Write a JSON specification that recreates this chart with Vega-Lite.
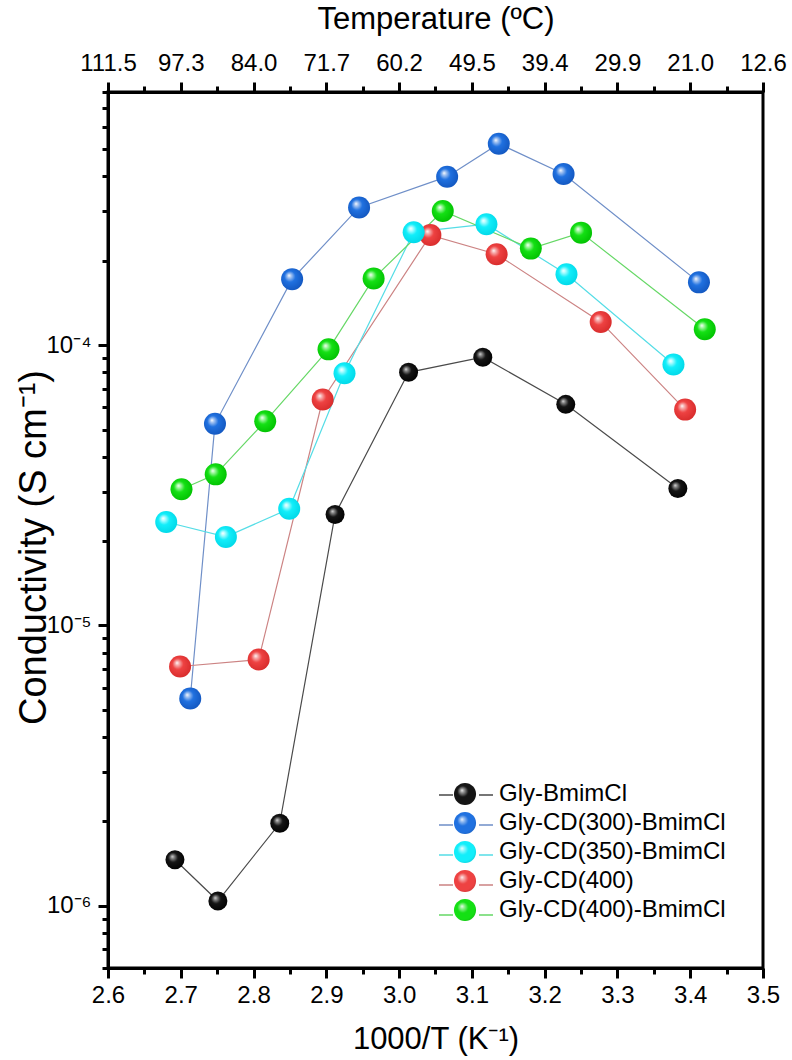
{
  "$schema": "https://vega.github.io/schema/vega-lite/v6.json",
  "width": 655,
  "height": 876,
  "autosize": {"type": "none"},
  "padding": {"left": 108, "top": 92, "right": 29, "bottom": 92},
  "background": "white",
  "config": {
    "view": {"stroke": "black", "strokeWidth": 3},
    "axis": {
      "grid": false,
      "ticks": true,
      "domainColor": "black",
      "domainWidth": 3,
      "tickColor": "black",
      "tickOpacity": 1,
      "tickWidth": 3,
      "labelColor": "black",
      "titleColor": "black",
      "labelFont": "Liberation Sans, Arial, sans-serif",
      "titleFont": "Liberation Sans, Arial, sans-serif",
      "labelFontSize": 24,
      "titleFontSize": 31,
      "titleFontWeight": "normal",
      "labelFlush": false,
      "labelOverlap": false
    },
    "legend": {
      "labelFont": "Liberation Sans, Arial, sans-serif",
      "labelFontSize": 24,
      "labelColor": "black",
      "labelLimit": 0
    }
  },
  "data": {
    "values": [
      {"s": "Gly-BmimCl", "x": 2.692, "y": 1.46e-6},
      {"s": "Gly-BmimCl", "x": 2.751, "y": 1.04e-6},
      {"s": "Gly-BmimCl", "x": 2.836, "y": 1.97e-6},
      {"s": "Gly-BmimCl", "x": 2.912, "y": 2.49e-5},
      {"s": "Gly-BmimCl", "x": 3.013, "y": 8.0e-5},
      {"s": "Gly-BmimCl", "x": 3.115, "y": 9.06e-5},
      {"s": "Gly-BmimCl", "x": 3.229, "y": 6.15e-5},
      {"s": "Gly-BmimCl", "x": 3.383, "y": 3.08e-5},
      {"s": "Gly-CD(300)-BmimCl", "x": 2.713, "y": 5.49e-6},
      {"s": "Gly-CD(300)-BmimCl", "x": 2.747, "y": 5.24e-5},
      {"s": "Gly-CD(300)-BmimCl", "x": 2.853, "y": 1.72e-4},
      {"s": "Gly-CD(300)-BmimCl", "x": 2.945, "y": 3.10e-4},
      {"s": "Gly-CD(300)-BmimCl", "x": 3.066, "y": 3.99e-4},
      {"s": "Gly-CD(300)-BmimCl", "x": 3.137, "y": 5.23e-4},
      {"s": "Gly-CD(300)-BmimCl", "x": 3.226, "y": 4.08e-4},
      {"s": "Gly-CD(300)-BmimCl", "x": 3.412, "y": 1.675e-4},
      {"s": "Gly-CD(400)", "x": 2.699, "y": 7.14e-6},
      {"s": "Gly-CD(400)", "x": 2.807, "y": 7.56e-6},
      {"s": "Gly-CD(400)", "x": 2.895, "y": 6.40e-5},
      {"s": "Gly-CD(400)", "x": 3.043, "y": 2.47e-4},
      {"s": "Gly-CD(400)", "x": 3.134, "y": 2.11e-4},
      {"s": "Gly-CD(400)", "x": 3.277, "y": 1.21e-4},
      {"s": "Gly-CD(400)", "x": 3.393, "y": 5.89e-5},
      {"s": "Gly-CD(350)-BmimCl", "x": 2.680, "y": 2.34e-5},
      {"s": "Gly-CD(350)-BmimCl", "x": 2.762, "y": 2.07e-5},
      {"s": "Gly-CD(350)-BmimCl", "x": 2.849, "y": 2.61e-5},
      {"s": "Gly-CD(350)-BmimCl", "x": 2.925, "y": 7.94e-5},
      {"s": "Gly-CD(350)-BmimCl", "x": 3.020, "y": 2.53e-4},
      {"s": "Gly-CD(350)-BmimCl", "x": 3.120, "y": 2.70e-4},
      {"s": "Gly-CD(350)-BmimCl", "x": 3.230, "y": 1.79e-4},
      {"s": "Gly-CD(350)-BmimCl", "x": 3.377, "y": 8.53e-5},
      {"s": "Gly-CD(400)-BmimCl", "x": 2.701, "y": 3.06e-5},
      {"s": "Gly-CD(400)-BmimCl", "x": 2.748, "y": 3.46e-5},
      {"s": "Gly-CD(400)-BmimCl", "x": 2.816, "y": 5.35e-5},
      {"s": "Gly-CD(400)-BmimCl", "x": 2.903, "y": 9.66e-5},
      {"s": "Gly-CD(400)-BmimCl", "x": 2.965, "y": 1.73e-4},
      {"s": "Gly-CD(400)-BmimCl", "x": 3.060, "y": 3.01e-4},
      {"s": "Gly-CD(400)-BmimCl", "x": 3.181, "y": 2.21e-4},
      {"s": "Gly-CD(400)-BmimCl", "x": 3.250, "y": 2.52e-4},
      {"s": "Gly-CD(400)-BmimCl", "x": 3.420, "y": 1.14e-4}
    ]
  },
  "resolve": {"axis": {"x": "independent", "y": "independent"}},
  "layer": [
    {
      "mark": {"type": "line", "strokeWidth": 1.2},
      "encoding": {
        "x": {
          "field": "x", "type": "quantitative",
          "scale": {"domain": [2.6, 3.5], "nice": false, "zero": false},
          "axis": {
            "orient": "bottom",
            "values": [2.6, 2.7, 2.8, 2.9, 3.0, 3.1, 3.2, 3.3, 3.4, 3.5],
            "format": ".1f",
            "ticks": true, "tickColor": "#000000", "tickWidth": 3, "tickOpacity": 1,
            "tickSize": 10,
            "labelPadding": 5,
            "title": "1000/T (K⁻¹)",
            "titleX": 327.5,
            "titleY": 71,
            "titleBaseline": "middle"
          }
        },
        "y": {
          "field": "y", "type": "quantitative",
          "scale": {"type": "log", "domain": [6e-7, 8e-4], "nice": false},
          "axis": {
            "orient": "left",
            "values": [1e-6, 1e-5, 1e-4],
            "labelExpr": "datum.value < 3e-6 ? '10⁻⁶' : datum.value < 3e-5 ? '10⁻⁵' : '10⁻⁴'",
            "ticks": true, "tickColor": "#000000", "tickWidth": 3, "tickOpacity": 1,
            "tickSize": 10,
            "labelPadding": 7,
            "title": "Conductivity (S cm⁻¹)",
            "titleFontSize": 38,
            "titleX": -74,
            "titleY": 455,
            "titleAngle": -90,
            "titleAlign": "center",
            "titleBaseline": "middle"
          }
        },
        "stroke": {
          "field": "s", "type": "nominal",
          "scale": {"range": ["#4a4a4a", "#6f8fc8", "#55dde6", "#cc8383", "#66d866"]},
          "legend": {
            "orient": "none",
            "legendX": 345,
            "legendY": 690,
            "title": null,
            "padding": 0,
            "rowPadding": 5,
            "symbolType": "M-2.25,0L-1.08,0M1.08,0L2.25,0",
            "symbolSize": 576,
            "symbolStrokeWidth": 1.3,
            "labelOffset": 22,
            "labelExpr": "''"
          }
        }
      }
    },
    {
      "transform": [{"filter": "datum.s === 'Gly-BmimCl'"}],
      "mark": {"type": "point", "filled": true, "opacity": 1, "size": 361, "shape": "circle", "strokeWidth": 0,
        "fill": {"gradient": "radial", "x1": 0.36, "y1": 0.33, "r1": 0, "x2": 0.46, "y2": 0.46, "r2": 0.6,
          "stops": [{"offset": 0, "color": "#e0e0e0"}, {"offset": 0.14, "color": "#8a8a8a"}, {"offset": 0.42, "color": "#151515"}, {"offset": 1, "color": "#000000"}]}},
      "encoding": {
        "x": {"field": "x", "type": "quantitative", "axis": null},
        "y": {"field": "y", "type": "quantitative", "axis": null}
      }
    },
    {
      "transform": [{"filter": "datum.s === 'Gly-CD(300)-BmimCl'"}],
      "mark": {"type": "point", "filled": true, "opacity": 1, "size": 484, "shape": "circle", "strokeWidth": 0,
        "fill": {"gradient": "radial", "x1": 0.36, "y1": 0.33, "r1": 0, "x2": 0.46, "y2": 0.46, "r2": 0.6,
          "stops": [{"offset": 0, "color": "#ffffff"}, {"offset": 0.14, "color": "#a8c6f2"}, {"offset": 0.42, "color": "#2071e0"}, {"offset": 1, "color": "#1255bd"}]}},
      "encoding": {
        "x": {"field": "x", "type": "quantitative", "axis": null},
        "y": {"field": "y", "type": "quantitative", "axis": null}
      }
    },
    {
      "transform": [{"filter": "datum.s === 'Gly-CD(400)'"}],
      "mark": {"type": "point", "filled": true, "opacity": 1, "size": 484, "shape": "circle", "strokeWidth": 0,
        "fill": {"gradient": "radial", "x1": 0.36, "y1": 0.33, "r1": 0, "x2": 0.46, "y2": 0.46, "r2": 0.6,
          "stops": [{"offset": 0, "color": "#ffffff"}, {"offset": 0.14, "color": "#f7b4b4"}, {"offset": 0.42, "color": "#ee4242"}, {"offset": 1, "color": "#d62a2a"}]}},
      "encoding": {
        "x": {"field": "x", "type": "quantitative", "axis": null},
        "y": {"field": "y", "type": "quantitative", "axis": null}
      }
    },
    {
      "transform": [{"filter": "datum.s === 'Gly-CD(350)-BmimCl'"}],
      "mark": {"type": "point", "filled": true, "opacity": 1, "size": 484, "shape": "circle", "strokeWidth": 0,
        "fill": {"gradient": "radial", "x1": 0.36, "y1": 0.33, "r1": 0, "x2": 0.46, "y2": 0.46, "r2": 0.6,
          "stops": [{"offset": 0, "color": "#ffffff"}, {"offset": 0.14, "color": "#b4fcff"}, {"offset": 0.42, "color": "#12eefa"}, {"offset": 1, "color": "#00d6e6"}]}},
      "encoding": {
        "x": {"field": "x", "type": "quantitative", "axis": null},
        "y": {"field": "y", "type": "quantitative", "axis": null}
      }
    },
    {
      "transform": [{"filter": "datum.s === 'Gly-CD(400)-BmimCl'"}],
      "mark": {"type": "point", "filled": true, "opacity": 1, "size": 484, "shape": "circle", "strokeWidth": 0,
        "fill": {"gradient": "radial", "x1": 0.36, "y1": 0.33, "r1": 0, "x2": 0.46, "y2": 0.46, "r2": 0.6,
          "stops": [{"offset": 0, "color": "#ffffff"}, {"offset": 0.14, "color": "#a8f8a8"}, {"offset": 0.42, "color": "#14e014"}, {"offset": 1, "color": "#00bf00"}]}},
      "encoding": {
        "x": {"field": "x", "type": "quantitative", "axis": null},
        "y": {"field": "y", "type": "quantitative", "axis": null}
      }
    },
    {
      "mark": {"type": "point", "filled": true, "opacity": 0, "shape": "circle"},
      "encoding": {
        "x": {
          "field": "x", "type": "quantitative",
          "axis": {"orient": "bottom", "values": [2.65, 2.75, 2.85, 2.95, 3.05, 3.15, 3.25, 3.35, 3.45], "ticks": true, "tickColor": "#000000", "tickWidth": 3, "tickOpacity": 1, "tickSize": 6, "labels": false, "domain": false, "title": null}
        },
        "y": {
          "field": "y", "type": "quantitative",
          "axis": {"orient": "left", "values": [6e-7, 7e-7, 8e-7, 9e-7, 2e-6, 3e-6, 4e-6, 5e-6, 6e-6, 7e-6, 8e-6, 9e-6, 2e-5, 3e-5, 4e-5, 5e-5, 6e-5, 7e-5, 8e-5, 9e-5, 2e-4, 3e-4, 4e-4, 5e-4, 6e-4, 7e-4, 8e-4], "ticks": true, "tickColor": "#000000", "tickWidth": 3, "tickOpacity": 1, "tickSize": 6, "labels": false, "domain": false, "title": null}
        },
        "fill": {
          "field": "s", "type": "nominal",
          "scale": {
            "domain": ["Gly-BmimCl", "Gly-CD(300)-BmimCl", "Gly-CD(350)-BmimCl", "Gly-CD(400)", "Gly-CD(400)-BmimCl"],
            "range": ["#151515", "#2071e0", "#12eefa", "#ee4242", "#14e014"]
          },
          "legend": {
            "orient": "none",
            "legendX": 345,
            "legendY": 690,
            "title": null,
            "padding": 0,
            "rowPadding": 5,
            "symbolType": "M-0.92,0A0.92,0.92,0,1,1,0.92,0A0.92,0.92,0,1,1,-0.92,0Z",
            "symbolSize": 576,
            "symbolStrokeWidth": 0,
            "symbolOpacity": 1,
            "labelOffset": 22
          }
        }
      }
    },
    {
      "mark": {"type": "point", "filled": true, "opacity": 0,
        "fill": {"gradient": "radial", "x1": 0.36, "y1": 0.33, "r1": 0, "x2": 0.46, "y2": 0.46, "r2": 0.6,
          "stops": [{"offset": 0, "color": "rgba(255,255,255,0.95)"}, {"offset": 0.15, "color": "rgba(255,255,255,0.55)"}, {"offset": 0.42, "color": "rgba(255,255,255,0)"}, {"offset": 0.8, "color": "rgba(0,0,0,0)"}, {"offset": 1, "color": "rgba(0,0,0,0.15)"}]}},
      "encoding": {
        "x": {"field": "x", "type": "quantitative", "axis": null},
        "y": {"field": "y", "type": "quantitative", "axis": null},
        "shape": {
          "field": "s", "type": "nominal",
          "scale": {
            "domain": ["Gly-BmimCl", "Gly-CD(300)-BmimCl", "Gly-CD(350)-BmimCl", "Gly-CD(400)", "Gly-CD(400)-BmimCl", "zz"],
            "range": [
              "M-0.92,0A0.92,0.92,0,1,1,0.92,0A0.92,0.92,0,1,1,-0.92,0Z",
              "M-0.92,0A0.92,0.92,0,1,1,0.92,0A0.92,0.92,0,1,1,-0.92,0Z",
              "M-0.92,0A0.92,0.92,0,1,1,0.92,0A0.92,0.92,0,1,1,-0.92,0Z",
              "M-0.92,0A0.92,0.92,0,1,1,0.92,0A0.92,0.92,0,1,1,-0.92,0Z",
              "M-0.92,0A0.92,0.92,0,1,1,0.92,0A0.92,0.92,0,1,1,-0.92,0Z",
              "M-0.92,0A0.92,0.92,0,1,1,0.92,0A0.92,0.92,0,1,1,-0.92,0Z"
            ]
          },
          "legend": {
            "orient": "none",
            "legendX": 345,
            "legendY": 690,
            "title": null,
            "padding": 0,
            "rowPadding": 5,
            "values": ["Gly-BmimCl", "Gly-CD(300)-BmimCl", "Gly-CD(350)-BmimCl", "Gly-CD(400)", "Gly-CD(400)-BmimCl"],
            "symbolSize": 576,
            "symbolStrokeWidth": 0,
            "symbolOpacity": 1,
            "labelOffset": 22,
            "labelExpr": "''"
          }
        }
      }
    },
    {
      "mark": {"type": "point", "opacity": 0},
      "encoding": {
        "x": {
          "field": "x", "type": "quantitative",
          "axis": {
            "orient": "top",
            "values": [2.6, 2.7, 2.8, 2.9, 3.0, 3.1, 3.2, 3.3, 3.4, 3.5],
            "labelExpr": "['111.5','97.3','84.0','71.7','60.2','49.5','39.4','29.9','21.0','12.6'][round(datum.value*10)-26]",
            "ticks": true, "tickColor": "#000000", "tickWidth": 3, "tickOpacity": 1,
            "tickSize": 10,
            "labelPadding": 7,
            "title": "Temperature (ºC)",
            "titleX": 327.5,
            "titleY": -73,
            "titleBaseline": "middle"
          }
        }
      }
    },
    {
      "mark": {"type": "point", "opacity": 0},
      "encoding": {
        "x": {
          "field": "x", "type": "quantitative",
          "axis": {"orient": "top", "values": [2.65, 2.75, 2.85, 2.95, 3.05, 3.15, 3.25, 3.35, 3.45], "ticks": true, "tickColor": "#000000", "tickWidth": 3, "tickOpacity": 1, "tickSize": 6, "labels": false, "domain": false, "title": null}
        }
      }
    }
  ]
}
